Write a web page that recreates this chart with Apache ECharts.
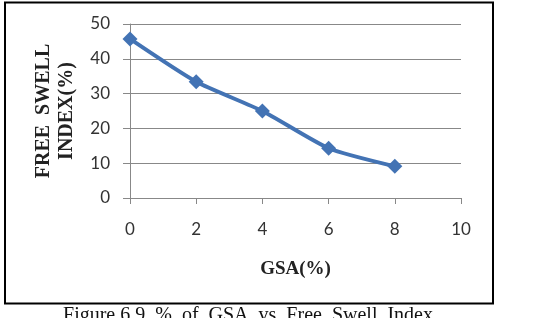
<!DOCTYPE html>
<html>
<head>
<meta charset="utf-8">
<script src="https://cdn.jsdelivr.net/npm/echarts@6/dist/echarts.min.js"></script>
<style>
  html, body { margin: 0; padding: 0; background: #fff; }
  #main { width: 555px; height: 318px; }
</style>
</head>
<body>
<div id="main"></div>
<script>
// GSA content (%) vs free swell index (%)
var gsa = [0, 2, 4, 6, 8];
var freeSwell = [45.7, 33.4, 25.0, 14.3, 9.1];
var xTicks = [0, 10, 2];   // min, max, step
var yTicks = [0, 50, 10];

var chart = echarts.init(document.getElementById('main'));

var points = gsa.map(function (g, i) { return [g, freeSwell[i]]; });

chart.setOption({
    animation: false,
    grid: { left: 130, right: 94, top: 24, bottom: 120 },
    xAxis: {
        type: 'value',
        min: xTicks[0], max: xTicks[1], interval: xTicks[2],
        name: 'GSA(%)',
        nameLocation: 'middle',
        nameGap: 62,
        nameTextStyle: { fontFamily: 'Liberation Serif', fontWeight: 'bold', fontSize: 19, color: '#222' },
        axisLine: { lineStyle: { color: '#888', width: 1 } },
        axisTick: { show: true, length: 6, lineStyle: { color: '#888' } },
        axisLabel: { margin: 23, fontFamily: 'Lato', fontSize: 17, color: '#333' },
        splitLine: { show: false }
    },
    yAxis: {
        type: 'value',
        min: yTicks[0], max: yTicks[1], interval: yTicks[2],
        name: 'FREE  SWELL\nINDEX(%)',
        nameLocation: 'middle',
        nameGap: 52,
        nameTextStyle: { fontFamily: 'Liberation Serif', fontWeight: 'bold', fontSize: 20, lineHeight: 23, color: '#222' },
        axisLine: { show: true, lineStyle: { color: '#888', width: 1 } },
        axisTick: { show: true, length: 7, lineStyle: { color: '#888' } },
        axisLabel: { margin: 20, fontFamily: 'Lato', fontSize: 17, color: '#333' },
        splitLine: { lineStyle: { color: '#888', width: 1 } }
    },
    series: [{
        type: 'line',
        data: points,
        smooth: 0.2,
        symbol: 'diamond',
        symbolSize: 15,
        lineStyle: { color: '#4373B4', width: 4 },
        itemStyle: { color: '#4373B4' }
    }],
    graphic: [
        {
            type: 'rect',
            shape: { x: 5, y: 2.5, width: 488, height: 301 },
            style: { fill: null, stroke: '#000', lineWidth: 2 },
            z: 100
        },
        {
            type: 'text',
            x: 248, y: 306,
            style: {
                text: 'Figure 6.9  %  of  GSA  vs  Free  Swell  Index',
                font: '20px "Liberation Serif"',
                fill: '#111',
                textAlign: 'center',
                textVerticalAlign: 'top'
            }
        }
    ]
});
</script>
</body>
</html>
